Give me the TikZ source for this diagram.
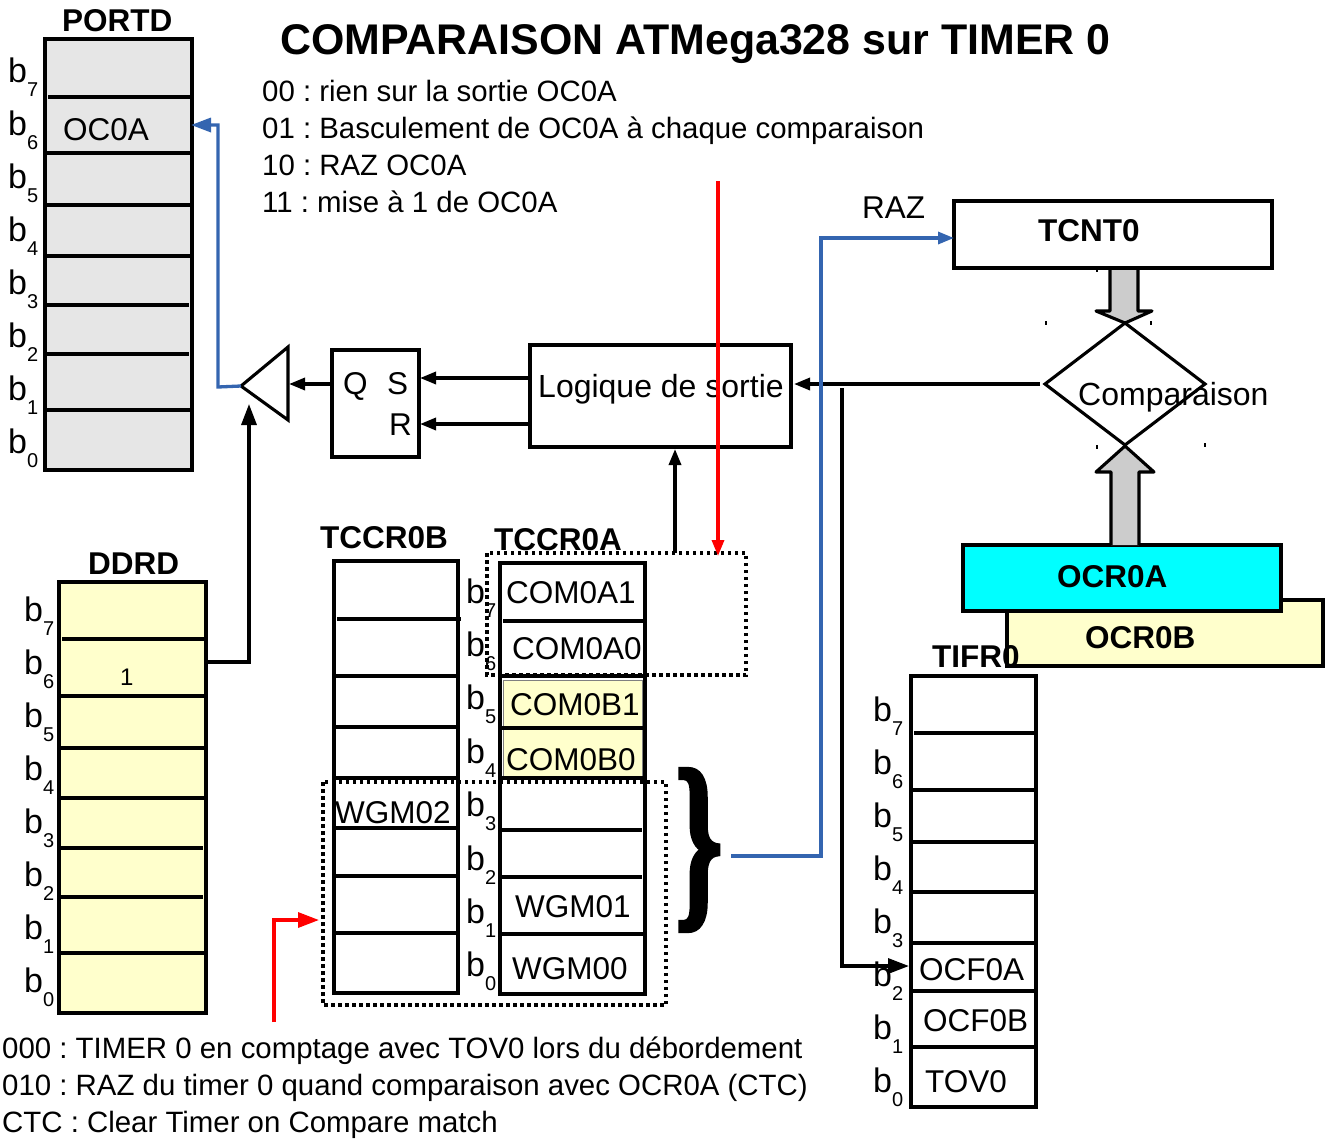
\documentclass[tikz,border=0pt]{standalone}
\usepackage{fontspec}
\setmainfont{Liberation Sans}
\newfontfamily\bracefont[FakeBold=2.5]{Liberation Serif}
\usetikzlibrary{arrows.meta,shapes.geometric}
\definecolor{portgrey}{HTML}{E6E6E6}
\definecolor{regyellow}{HTML}{FFFFCC}
\definecolor{wireblue}{HTML}{3465B0}
\definecolor{arrowgrey}{HTML}{CCCCCC}
\definecolor{ocrcyan}{HTML}{00FFFF}
\definecolor{wirered}{HTML}{FF0000}
\tikzset{
  regbox/.style={draw,line width=3.1pt,outer sep=0pt,inner sep=0pt},
  regline/.style={line width=3.1pt},
  txt/.style={anchor=base west,inner sep=0pt,font=\fontsize{31.5}{36}\selectfont},
  listtxt/.style={txt,font=\fontsize{29.4}{34}\selectfont},
  bittxt/.style={txt,font=\fontsize{34}{38}\selectfont},
  boldtxt/.style={txt,font=\fontsize{31.5}{36}\bfseries\selectfont},
  wire/.style={-{Triangle[length=16pt,width=12pt]},line width=3.3pt},
  bigwire/.style={-{Triangle[length=21pt,width=15pt]},line width=3.3pt},
  bluewire/.style={wire,wireblue},
  dottedbox/.style={line width=3.3pt,dash pattern=on 3.5pt off 3.5pt},
  blockarrow/.style={draw,fill=arrowgrey,line width=3.1pt,line join=round},
}
% one bit label: b with its number set lower
\newcommand{\bitlab}[1]{b{\fontsize{20}{20}\selectfont\raisebox{-14pt}{#1}}}
\begin{document}
\frenchspacing
\begin{tikzpicture}[x=1pt,y=-1pt]
  \useasboundingbox (0,0) rectangle (1329,1141);

  % title and mode lists
  \node[txt,font=\fontsize{42.9}{48}\bfseries\selectfont] (title) at (280,54) {COMPARAISON ATMega328 sur TIMER 0};
  \node[listtxt] (comA) at (262,101) {00 : rien sur la sortie OC0A};
  \node[listtxt] (comB) at (262,138) {01 : Basculement de OC0A à chaque comparaison};
  \node[listtxt] (comC) at (262,175) {10 : RAZ OC0A};
  \node[listtxt] (comD) at (262,212) {11 : mise à 1 de OC0A};
  \node[listtxt] (wgmA) at (2,1058) {000 : TIMER 0 en comptage avec TOV0 lors du débordement};
  \node[listtxt] (wgmB) at (2,1095) {010 : RAZ du timer 0 quand comparaison avec OCR0A (CTC)};
  \node[listtxt] (wgmC) at (2,1132) {CTC : Clear Timer on Compare match};

  % PORTD
  \node[regbox,fill=portgrey,minimum width=147pt,minimum height=431pt] (portd) at (118.5,254.5) {};
  \foreach \yy/\xa/\xb in {97/48/194,153/45/192,205/45/192,256/45/192,305/45/189,354/45/189,410/45/192}
    \draw[regline] (\xa,\yy) -- (\xb,\yy);
  \node[boldtxt] (portdname) at (62,31) {PORTD};
  \node[txt] (oca) at (63,140) {OC0A};
  \coordinate (ocaIn) at (191,125);

  % DDRD
  \node[regbox,fill=regyellow,minimum width=147pt,minimum height=431pt] (ddrd) at (132.5,797.5) {};
  \foreach \yy/\xa/\xb in {639/62/208,696/59/206,748/59/206,798/59/206,848/59/203,897/59/203,953/59/206}
    \draw[regline] (\xa,\yy) -- (\xb,\yy);
  \node[boldtxt] (ddrdname) at (88,574) {DDRD};
  \node[txt,font=\fontsize{24}{28}\selectfont] (ddone) at (120,685) {1};
  \coordinate (ddOut) at (206,662);

  % TCCR0B
  \node[regbox,minimum width=124pt,minimum height=432pt] (tccrb) at (396,777) {};
  \foreach \yy/\xa/\xb in {619/337/461,676/334/458,727/334/458,778/334/458,828/334/458,876/332/458,933/334/458}
    \draw[regline] (\xa,\yy) -- (\xb,\yy);
  \node[boldtxt] (tccrbname) at (320,548) {TCCR0B};
  \node[txt] (wgmtwo) at (335,823) {WGM02};

  % TCCR0A
  \node[regbox,minimum width=145pt,minimum height=431pt] (tccra) at (572.5,778.5) {};
  \draw[line width=.8pt,draw=black!50,fill=regyellow] (503,680) rectangle (642,778);
  \foreach \yy/\xa/\xb in {621/503/647,676/500/645,728/500/645,778/500/645,830/500/642,877/498/642,934/500/645}
    \draw[regline] (\xa,\yy) -- (\xb,\yy);
  \node[boldtxt] (tccraname) at (494,550) {TCCR0A};
  \node[txt] (comaone) at (506,603) {COM0A1};
  \node[txt] (comazero) at (512,659) {COM0A0};
  \node[txt] (combone) at (510,715) {COM0B1};
  \node[txt] (combzero) at (506,770) {COM0B0};
  \node[txt] (wgmone) at (515,917) {WGM01};
  \node[txt] (wgmzero) at (512,979) {WGM00};

  % TIFR0 sits under the compare registers
  \node[regbox,fill=regyellow,minimum width=316pt,minimum height=66pt] (ocrb) at (1165,633) {};
  \node[boldtxt] (ocrbname) at (1085,648) {OCR0B};
  \node[regbox,fill=ocrcyan,minimum width=318pt,minimum height=66pt] (ocra) at (1122,578) {};
  \node[boldtxt] (ocraname) at (1057,587) {OCR0A};
  \node[regbox,minimum width=125pt,minimum height=431pt] (tifr) at (973.5,891.5) {};
  \foreach \yy/\xa/\xb in {733/914/1038,790/911/1036,842/911/1036,892/911/1036,943/911/1036,991/911/1036,1047/911/1036}
    \draw[regline] (\xa,\yy) -- (\xb,\yy);
  \node[boldtxt] (tifrname) at (932,667) {TIFR0};
  \node[txt] (ocfa) at (919,980) {OCF0A};
  \node[txt] (ocfb) at (923,1031) {OCF0B};
  \node[txt] (tov) at (925,1092) {TOV0};
  \coordinate (ocfIn) at (909,966);

  % bit labels
  \foreach \n [count=\k from 0] in {7,...,0} {
    \node[bittxt] (pb\n) at (8,82+53*\k) {\bitlab{\n}};
    \node[bittxt] (db\n) at (24,621+53*\k) {\bitlab{\n}};
    \node[bittxt] (tb\n) at (466,603+53.4*\k) {\bitlab{\n}};
    \node[bittxt] (ib\n) at (873,721+53*\k) {\bitlab{\n}};
  }

  % dotted groups and brace
  \draw[dottedbox] (487,553) rectangle (746,675);
  \draw[dottedbox] (323,782) rectangle (666,1005);
  \node[anchor=center,inner sep=0pt,xscale=.62,font=\fontsize{195}{195}\bracefont\bfseries\selectfont] (brace) at (699,850) {\}};

  % output logic
  \node[regbox,minimum width=261pt,minimum height=102pt] (logic) at (660.5,396) {};
  \node[txt,font=\fontsize{32}{36}\selectfont] (logictxt) at (538,397) {Logique de sortie};
  \node[regbox,minimum width=87pt,minimum height=107pt] (latch) at (375.5,403.5) {};
  \node[txt] (qlab) at (343,394) {Q};
  \node[txt] (slab) at (387,394) {S};
  \node[txt] (rlab) at (389,435) {R};
  \coordinate (inS) at (420,378);
  \coordinate (inR) at (420,424);
  \coordinate (qOut) at (330,384);

  % output buffer
  \coordinate (bufTip) at (241,386);
  \coordinate (bufTop) at (288,347);
  \coordinate (bufBot) at (288,420);
  \coordinate (bufIn) at (289,384);
  \coordinate (bufEn) at (249,404);
  \draw[line width=3.1pt,line join=miter] (bufTip) -- (bufTop) -- (bufBot) -- cycle;

  % timer and compare
  \draw[blockarrow] (1110,268) -- (1110,311) -- (1096,311) -- (1125,323) -- (1152,311) -- (1138,311) -- (1138,268);
  \draw[blockarrow] (1111,545) -- (1111,472) -- (1096,472) -- (1125,446) -- (1154,472) -- (1139,472) -- (1139,545);
  \node[regbox,minimum width=318pt,minimum height=67pt] (tcnt) at (1113,234.5) {};
  \node[boldtxt] (tcntname) at (1038,241) {TCNT0};
  \node[diamond,draw,line width=3.1pt,outer sep=0pt,inner sep=0pt,minimum width=160pt,minimum height=122pt] (cmp) at (1125,384) {};
  \node[txt,font=\fontsize{32}{36}\selectfont] (cmptxt) at (1078,405) {Comparaison};
  \node[txt] (raz) at (862,218) {RAZ};
  \foreach \xx/\yy in {1046/323,1151/323,1097/447,1205/445,1097/270}
    \fill (\xx-.7,\yy-2) rectangle (\xx+.7,\yy+2);

  % connectors
  \coordinate (cmpOut) at (1040,384);
  \coordinate (logicIn) at (794,384);
  \coordinate (tapTop) at (842,388);
  \coordinate (tapBot) at (842,966);
  \coordinate (logicUp) at (675,449);
  \coordinate (groupTop) at (675,553);
  \coordinate (razStart) at (731,856);
  \coordinate (razIn) at (954,238);
  \draw[wire] (logic.west |- inS) -- (inS);
  \draw[wire] (logic.west |- inR) -- (inR);
  \draw[wire] (qOut) -- (bufIn);
  \draw[wire] (cmpOut) -- (logicIn);
  \draw[bigwire] (tapTop) -- (tapBot) -- (ocfIn);
  \draw[wire] (groupTop) -- (logicUp);
  \draw[bigwire] (ddOut) -| (bufEn);
  \draw[bluewire] (razStart) -- (821,856) -- (821,238) -- (razIn);
  \draw[bluewire,-{Triangle[length=20pt,width=14pt]}] (bufTip) -- (218,387) -- (218,125) -- (ocaIn);

  % red marks
  \coordinate (redTopA) at (718,181);
  \coordinate (redTopB) at (718,556);
  \coordinate (redLowA) at (274,1022);
  \coordinate (redLowB) at (319,920);
  \draw[wire,wirered] (redTopA) -- (redTopB);
  \draw[bigwire,wirered] (redLowA) |- (redLowB);
\end{tikzpicture}
\end{document}
